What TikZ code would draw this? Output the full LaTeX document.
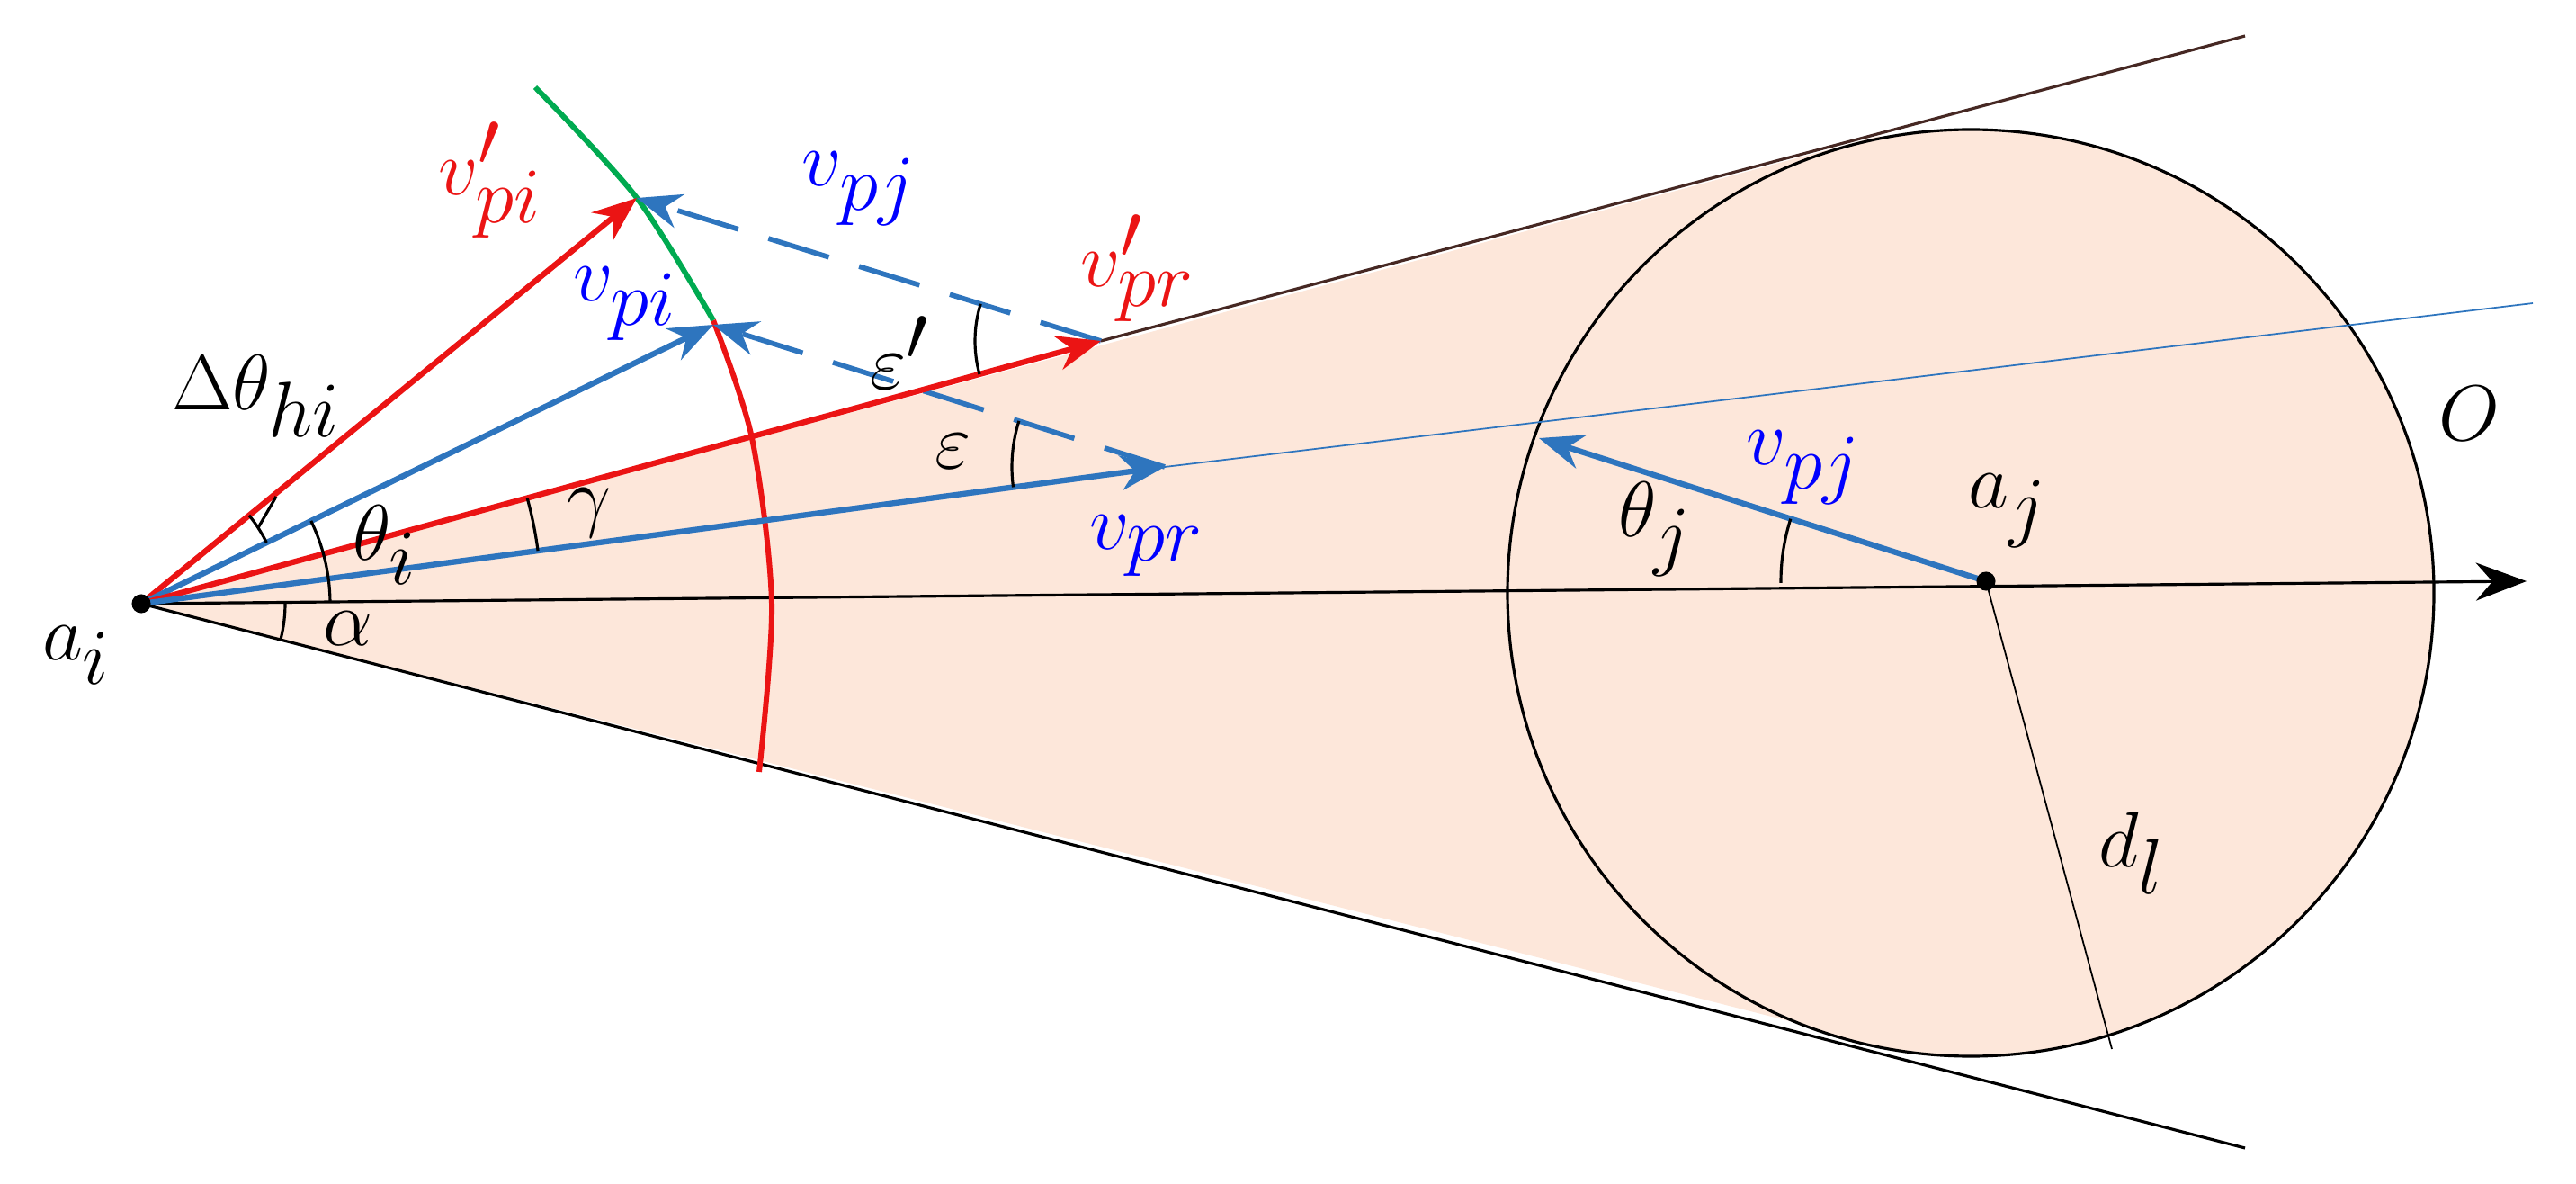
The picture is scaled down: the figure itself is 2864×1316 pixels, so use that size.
\documentclass[tikz,border=0pt]{standalone}
\usetikzlibrary{arrows.meta}
\definecolor{peach}{RGB}{253,231,218}
\definecolor{vblue}{RGB}{46,117,190}
\definecolor{vred}{RGB}{235,20,20}
\definecolor{vgreen}{RGB}{0,170,80}
\definecolor{brn}{RGB}{70,40,35}
\begin{document}
\begin{tikzpicture}[x=0.01cm,y=-0.01cm,
  vec/.style={line width=1.8pt,-{Stealth[length=14pt,width=11pt]}},
  blk/.style={line width=0.9pt,black},
  ang/.style={line width=0.9pt,black},
  lbl/.style={font=\fontsize{40}{46}\selectfont,inner sep=0pt},
  slbl/.style={font=\fontsize{28}{32}\selectfont,inner sep=0pt},
  dot/.style={circle,fill=black,inner sep=0pt,minimum size=6pt}]
\useasboundingbox (0,0) rectangle (2864,1316);
% points
\coordinate (ai) at (157,671);
\coordinate (aj) at (2208,646);
\coordinate (tu) at (2090,151);
\coordinate (tl) at (2112,1166);
\coordinate (ue) at (2496,40);
\coordinate (le) at (2496,1276);
\coordinate (ax) at (2809,646);
\coordinate (vpi2) at (708,220);
\coordinate (vpi) at (793,361);
\coordinate (vpr2) at (1224,379);
\coordinate (vpr) at (1295,519);
\coordinate (bl) at (2816,337);
\coordinate (vpjt) at (1711,487);
\coordinate (dl) at (2348,1166);
% fill
\fill[peach] (ai) -- (tu) -- (tl) -- cycle;
\fill[peach] (2191,659) circle [radius=515];
\draw[blk] (2191,659) circle [radius=515];
% cone edges
\draw[blk,brn] (vpr2) -- (ue);
\draw[blk] (ai) -- (le);
\draw[blk,-{Stealth[length=16pt,width=12pt]}] (ai) -- (ax);
% thin lines
\draw[vblue,line width=0.5pt] (vpr) -- (bl);
\draw[black,line width=0.5pt] (aj) -- (dl);
% arcs
\draw[vred,line width=1.7pt] plot[smooth] coordinates {(793,356) (836,487) (858,671) (844,858)};
\draw[vgreen,line width=1.7pt] plot[smooth] coordinates {(595,97) (708,220) (793,356)};
% dashed
\draw[vblue,line width=1.6pt,dash pattern=on 20pt off 10pt,-{Stealth[length=14pt,width=11pt]}] (vpr2) -- (vpi2);
\draw[vblue,line width=1.6pt,dash pattern=on 20pt off 10pt,-{Stealth[length=14pt,width=11pt]}] (vpr) -- (vpi);
% vectors
\draw[vec,vred] (ai) -- (vpi2);
\draw[vec,vblue] (ai) -- (vpi);
\draw[vec,vred] (ai) -- (vpr2);
\draw[vec,vblue] (ai) -- (vpr);
\draw[vec,vblue] (aj) -- (vpjt);
% angle arcs
\draw[ang] (ai) ++(-15.3:445) arc[start angle=-15.3,end angle=-7.6,radius=445];
\draw[ang] (ai) ++(-26:210) arc[start angle=-26,end angle=-0.54,radius=210];
\draw[ang] (ai) ++(-39.3:155) arc[start angle=-39.3,end angle=-26,radius=155];
\draw[ang] (ai) ++(-33:155) -- ++(-60:40);
\draw[ang] (ai) ++(-0.54:160) arc[start angle=-0.54,end angle=14.5,radius=160];
\draw[ang] (vpr) ++(172.4:170) arc[start angle=172.4,end angle=197.5,radius=170];
\draw[ang] (vpr2) ++(164.7:140) arc[start angle=164.7,end angle=197.1,radius=140];
\draw[ang] (aj) ++(179.5:228) arc[start angle=179.5,end angle=197.7,radius=228];
% dots
\node[dot] (ain) at (ai) {};
\node[dot] (ajn) at (aj) {};
% labels
\node[lbl,font=\fontsize{48}{54}\selectfont] (lai) at (85,728) {$a_i$};
\node[lbl] (laj) at (2232,568) {$a_j$};
\node[lbl] (lO) at (2745,460) {$O$};
\node[lbl] (ldl) at (2370,948) {$d_l$};
\node[lbl,vred] (lvpi2) at (545,200) {$v'_{pi}$};
\node[lbl,vred] (lvpr2) at (1265,298) {$v'_{pr}$};
\node[lbl,blue] (lvpj1) at (955,210) {$v_{pj}$};
\node[lbl,blue] (lvpi) at (695,338) {$v_{pi}$};
\node[lbl,blue] (lvpr) at (1275,607) {$v_{pr}$};
\node[lbl,blue] (lvpj2) at (2005,520) {$v_{pj}$};
\node[lbl] (leps2) at (1000,392) {$\varepsilon'$};
\node[lbl] (leps) at (1060,502) {$\varepsilon$};
\node[lbl] (ldth) at (285,440) {$\Delta\theta_{hi}$};
\node[lbl] (lthi) at (428,606) {$\theta_i$};
\node[lbl] (lthj) at (1840,588) {$\theta_j$};
\node[slbl] (lgam) at (655,570) {$\gamma$};
\node[slbl] (lalp) at (387,699) {$\alpha$};
\end{tikzpicture}
\end{document}
